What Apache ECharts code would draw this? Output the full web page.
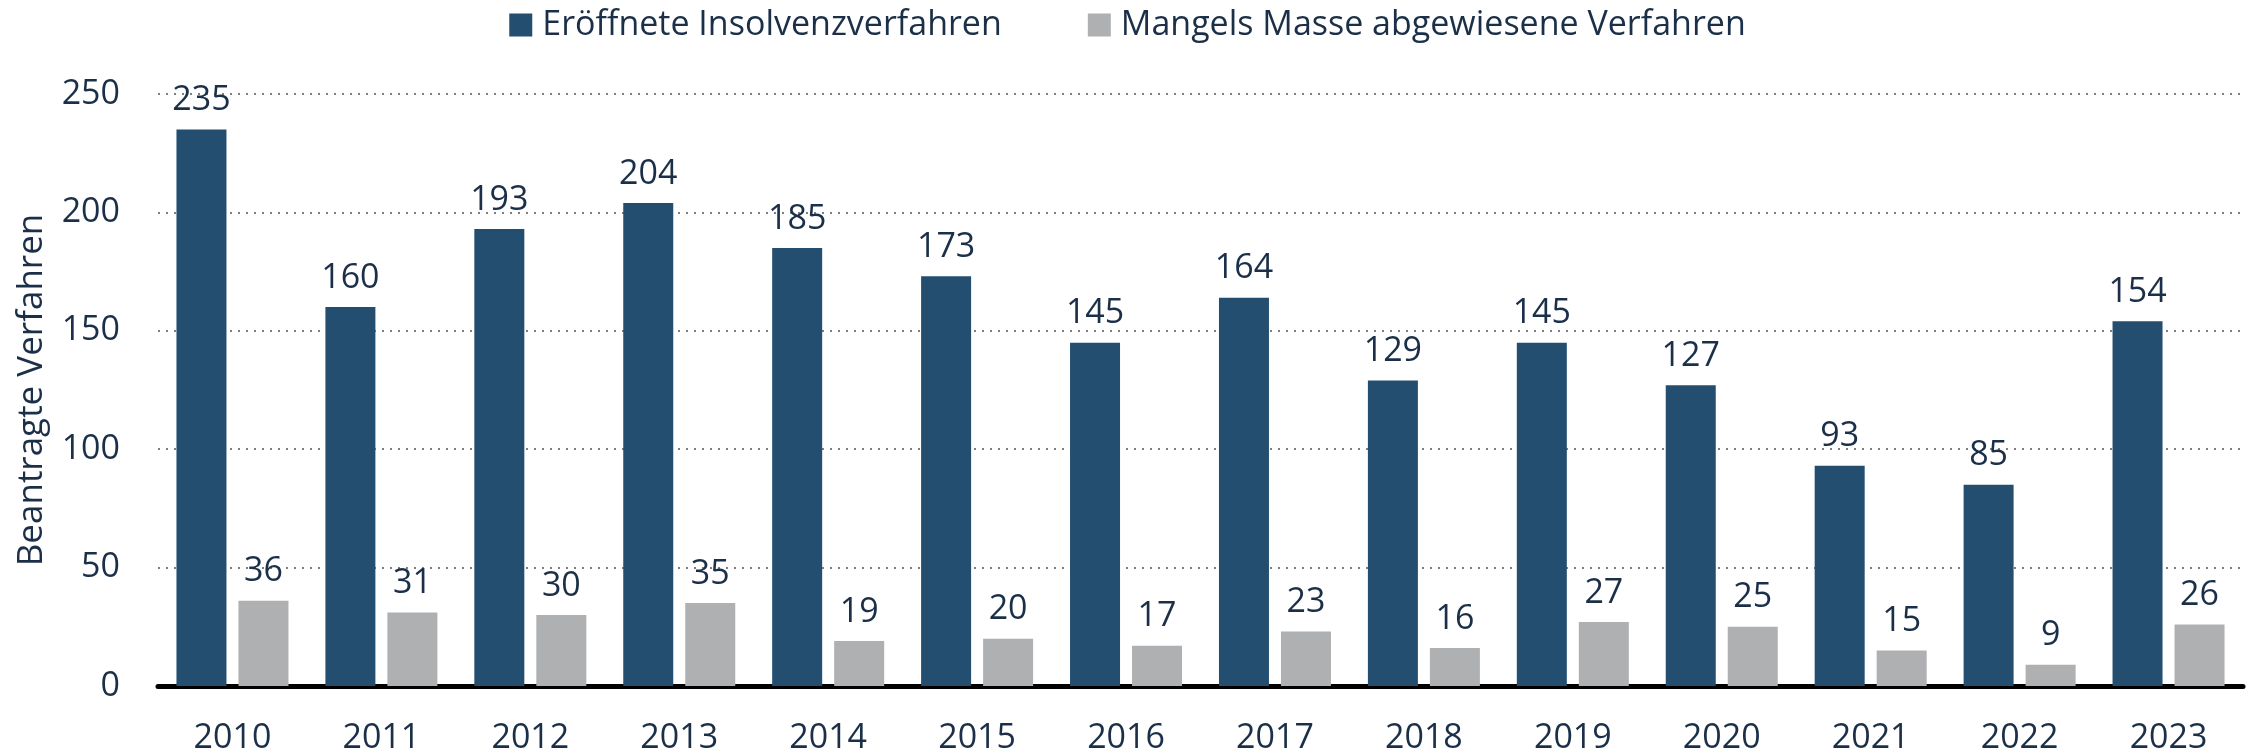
<!DOCTYPE html>
<html>
<head>
<meta charset="utf-8">
<script src="https://cdn.jsdelivr.net/npm/echarts@6/dist/echarts.min.js"></script>
<style>
  html, body { margin: 0; padding: 0; background: #fff; }
  #chart { width: 2255px; height: 755px; }
</style>
</head>
<body>
<div id="chart"></div>
<script>
const years = ['2010', '2011', '2012', '2013', '2014', '2015', '2016', '2017', '2018', '2019', '2020', '2021', '2022', '2023']
const opened = [235, 160, 193, 204, 185, 173, 145, 164, 129, 145, 127, 93, 85, 154]
const rejected = [36, 31, 30, 35, 19, 20, 17, 23, 16, 27, 25, 15, 9, 26]
const seriesNames = ['Eröffnete Insolvenzverfahren', 'Mangels Masse abgewiesene Verfahren']

const textColor = '#1b3048'
const font = '"Open Sans", "Noto Sans", sans-serif'

const chart = echarts.init(document.getElementById('chart'))

const valueLabel = {
  show: true,
  position: 'top',
  distance: 12,
  color: textColor,
  fontFamily: font,
  fontSize: 34,
}

chart.setOption({
  animation: false,
  textStyle: { fontFamily: font, color: textColor },
  color: ['#234e70', '#afb0b2'],
  legend: {
    top: 3,
    left: 'center',
    itemWidth: 23,
    itemHeight: 23,
    itemGap: 86,
    icon: 'rect',
    textStyle: { color: textColor, fontSize: 34, fontFamily: font, padding: [0, 0, 0, 5] },
    data: seriesNames,
  },
  grid: { left: 158, right: 12, top: 94, bottom: 66, containLabel: false },
  xAxis: {
    type: 'category',
    data: years,
    axisTick: { show: false },
    axisLine: { lineStyle: { color: '#000', width: 5 } },
    axisLabel: { color: textColor, fontSize: 34, margin: 35, fontFamily: font },
  },
  yAxis: {
    type: 'value',
    min: 0,
    max: 250,
    interval: 50,
    name: 'Beantragte Verfahren',
    nameLocation: 'middle',
    nameGap: 108,
    nameTextStyle: { color: textColor, fontSize: 35, fontFamily: font },
    axisLine: { show: false },
    axisTick: { show: false },
    axisLabel: { color: textColor, fontSize: 34, margin: 38, fontFamily: font },
    splitLine: { lineStyle: { color: '#555', type: [2, 6], width: 1.5 } },
  },
  series: [
    {
      name: seriesNames[0],
      type: 'bar',
      data: opened,
      barWidth: 50,
      barGap: '24%',
      label: valueLabel,
    },
    {
      name: seriesNames[1],
      type: 'bar',
      data: rejected,
      barWidth: 50,
      label: valueLabel,
    },
  ],
})
</script>
</body>
</html>
